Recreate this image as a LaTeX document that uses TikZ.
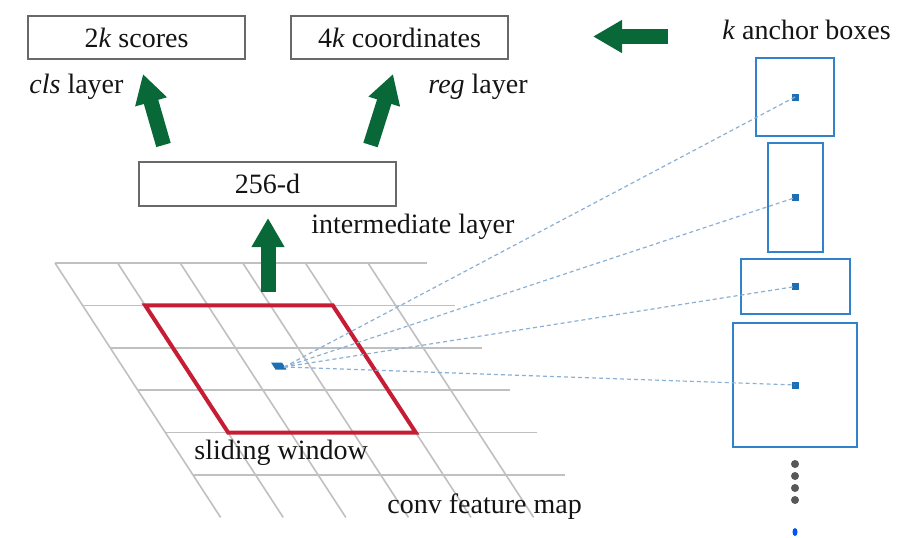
\documentclass[tikz,border=0pt]{standalone}
\usepackage{fontspec}
\setmainfont{Liberation Serif}
\usetikzlibrary{arrows.meta}
\definecolor{fgreen}{RGB}{8,104,56}
\definecolor{gridgrey}{RGB}{192,192,192}
\definecolor{winred}{RGB}{198,28,52}
\definecolor{boxgrey}{RGB}{105,105,105}
\definecolor{anchorblue}{RGB}{48,130,202}
\definecolor{dotblue}{RGB}{30,110,180}
\definecolor{dashblue}{RGB}{140,176,212}
\definecolor{txt}{RGB}{20,20,20}
\definecolor{dotgrey}{RGB}{88,88,88}
\definecolor{brightblue}{RGB}{0,85,250}
\begin{document}
\begin{tikzpicture}[x=0.5pt,y=-0.5pt,
  lbl/.style={inner sep=0pt, anchor=base west, text=txt, font=\fontsize{14}{17}\selectfont},
  outbox/.style={draw=boxgrey, line width=1pt, fill=white, text=txt, inner sep=0pt,
    font=\fontsize{14}{17}\selectfont},
  gridline/.style={draw=gridgrey, line width=0.8pt},
  window/.style={draw=winred, line width=2pt},
  fat/.style={draw=fgreen, line width=7.5pt, -{Triangle[length=14.5pt, width=15.5pt]}},
  anchorbox/.style={draw=anchorblue, line width=1pt, inner sep=0pt},
  adot/.style={fill=dotblue, inner sep=0pt, minimum size=3.5pt},
  ray/.style={draw=dashblue, line width=0.6pt, dash pattern=on 2pt off 1.5pt},
  gdot/.style={circle, fill=dotgrey, inner sep=0pt, minimum size=4pt}
]
\useasboundingbox (0,0) rectangle (904,537);
\fill[white] (0,0) rectangle (904,537);

% conv feature map grid
\foreach \j in {0,...,5}
  \draw[gridline] ({55+62.6*\j},263) -- ++(165.6,254.4);
\foreach \i in {0,...,5}
  \draw[gridline] ({55+27.6*\i},{263+42.4*\i}) -- ++(372,0);

% sliding window
\draw[window] (145.2,305.4) -- (332.8,305.4) -- (415.8,432.6) -- (228.2,432.6) -- cycle;

% centre of window
\fill[dotblue] (271,362.5) -- (282,362.5) -- (286.5,369.5) -- (275.5,369.5) -- cycle;
\coordinate (src) at (284,367);

% output boxes
\node[outbox, minimum width=108.5pt, minimum height=21.5pt] (cls) at (136.5,37.5) {2\textit{k} scores};
\node[outbox, minimum width=108.5pt, minimum height=21.5pt] (reg) at (399.5,37.5) {4\textit{k} coordinates};
\node[outbox, minimum width=128.5pt, minimum height=22pt] (mid) at (267.5,184) {256-d};

% labels
\node[lbl] (clsl) at (29,93) {\textit{cls} layer};
\node[lbl] (regl) at (428,93) {\textit{reg} layer};
\node[lbl] (midl) at (311,233) {intermediate layer};
\node[lbl] (ankl) at (722,39) {\textit{k} anchor boxes};
\node[lbl] (swl) at (194,459) {sliding window};
\node[lbl] (cfl) at (387,513) {conv feature map};

% green arrows
\coordinate (upT) at (268,292);  \coordinate (upH) at (268,218);
\coordinate (clT) at (163.5,145); \coordinate (clH) at (143,74);
\coordinate (rgT) at (370.5,145); \coordinate (rgH) at (393,74);
\coordinate (lfT) at (668,36.5); \coordinate (lfH) at (593,36.5);
\draw[fat] (upT) -- (upH);
\draw[fat] (clT) -- (clH);
\draw[fat] (rgT) -- (rgH);
\draw[fat] (lfT) -- (lfH);

% anchor boxes
\node[anchorbox, minimum width=39pt, minimum height=39pt] (a1) at (795,97) {};
\node[anchorbox, minimum width=27.5pt, minimum height=54.5pt] (a2) at (795.5,197.5) {};
\node[anchorbox, minimum width=54.5pt, minimum height=27.5pt] (a3) at (795.5,286.5) {};
\node[anchorbox, minimum width=62pt, minimum height=62pt] (a4) at (795,385) {};
\node[adot] (d1) at (a1.center) {};
\node[adot] (d2) at (a2.center) {};
\node[adot] (d3) at (a3.center) {};
\node[adot] (d4) at (a4.center) {};

% rays
\draw[ray] (src) -- (d1.center);
\draw[ray] (src) -- (d2.center);
\draw[ray] (src) -- (d3.center);
\draw[ray] (src) -- (d4.center);

% more anchors
\node[gdot] (g1) at (795,464) {};
\node[gdot] (g2) at (795,476) {};
\node[gdot] (g3) at (795,488) {};
\node[gdot] (g4) at (795,500) {};
\fill[brightblue] (795,532) ellipse [x radius=2.5, y radius=4];
\end{tikzpicture}
\end{document}
